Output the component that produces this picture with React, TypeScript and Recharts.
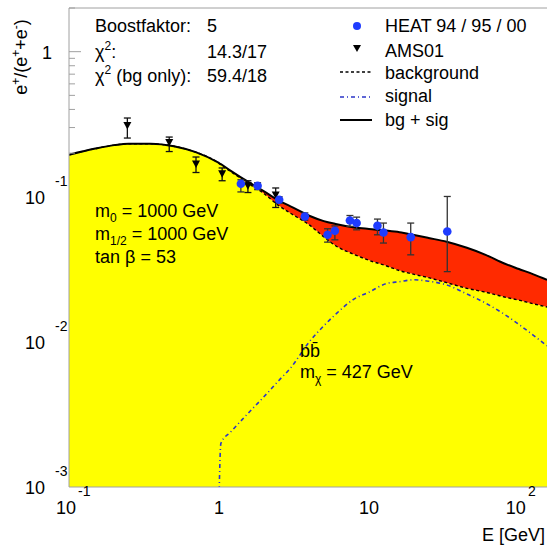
import React from 'react';
import { ComposedChart, Area, Line, Scatter, XAxis, YAxis, ErrorBar, ReferenceLine } from 'recharts';

// ---- curves (sampled on a common energy grid, GeV) ----
const energyGrid = [0.1, 0.15, 0.2, 0.25, 0.35, 0.5, 0.7, 1, 1.03, 1.2, 1.6, 2, 2.5, 3, 4, 5, 6, 8, 10, 13, 16, 20, 25, 33, 45, 60, 80, 100, 125, 154];
const bgPlusSig = [0.195, 0.215, 0.227, 0.232, 0.232, 0.223, 0.203, 0.171, 0.168, 0.151, 0.125, 0.109, 0.094, 0.086, 0.074, 0.068, 0.065, 0.0615, 0.060, 0.0585, 0.057, 0.0545, 0.052, 0.049, 0.0445, 0.0398, 0.0347, 0.0318, 0.0292, 0.0268];
const background = [0.195, 0.215, 0.227, 0.232, 0.232, 0.223, 0.203, 0.170, 0.166, 0.149, 0.122, 0.105, 0.087, 0.077, 0.064, 0.053, 0.046, 0.040, 0.0365, 0.0335, 0.031, 0.0292, 0.0277, 0.0256, 0.0234, 0.0220, 0.0204, 0.0194, 0.0183, 0.0174];
const signal = [null, null, null, null, null, null, null, 0.0008, 0.002, 0.0024, 0.0033, 0.0042, 0.0054, 0.0066, 0.0100, 0.0129, 0.0155, 0.0198, 0.022, 0.0252, 0.026, 0.0268, 0.0262, 0.0247, 0.0214, 0.0185, 0.0155, 0.0132, 0.0111, 0.0094];

// ---- AMS01 data ----
const amsE = [0.245, 0.466, 0.703, 1.05, 1.56, 2.39];
const amsVal = [0.310, 0.237, 0.168, 0.144, 0.119, 0.103];
const amsLow = [0.254, 0.205, 0.147, 0.129, 0.107, 0.0844];
const amsHigh = [0.349, 0.258, 0.188, 0.158, 0.129, 0.115];

// ---- HEAT 94/95/00 data ----
const heatE = [1.40, 1.81, 2.52, 3.74, 5.30, 5.93, 7.47, 8.28, 11.4, 12.5, 19.0, 33.3];
const heatVal = [0.123, 0.119, 0.0953, 0.0731, 0.0547, 0.0583, 0.0686, 0.0659, 0.0631, 0.0567, 0.0527, 0.0576];
const heatLow = [0.108, 0.112, 0.090, 0.069, 0.0487, 0.0505, 0.0625, 0.0592, 0.0547, 0.048, 0.0398, 0.0305];
const heatHigh = [0.131, 0.125, 0.100, 0.0774, 0.0602, 0.063, 0.0743, 0.0724, 0.0702, 0.0659, 0.0659, 0.1005];

// ---- axes ----
const X_MIN = 0.1;
const X_MAX = 154;
const Y_MIN = 0.001;
const Y_MAX = 2;
const xTickValues = [0.1, 0.2, 0.3, 0.4, 0.5, 0.6, 0.7, 0.8, 0.9, 1, 2, 3, 4, 5, 6, 7, 8, 9, 10, 20, 30, 40, 50, 60, 70, 80, 90, 100];
const yTickValues = [0.001, 0.002, 0.003, 0.004, 0.005, 0.006, 0.007, 0.008, 0.009, 0.01, 0.02, 0.03, 0.04, 0.05, 0.06, 0.07, 0.08, 0.09, 0.1, 0.2, 0.3, 0.4, 0.5, 0.6, 0.7, 0.8, 0.9, 1, 2];
const xTickLabels: Record<string, [string, string]> = { '0.1': ['10', '-1'], '1': ['1', ''], '10': ['10', ''], '100': ['10', '2'] };
const yTickLabels: Record<string, [string, string]> = { '0.001': ['10', '-3'], '0.01': ['10', '-2'], '0.1': ['10', '-1'], '1': ['1', ''] };

const FONT = '"Liberation Sans", Arial, Helvetica, sans-serif';
const AXIS_GRAY = '#a0a0a0';
const YELLOW = '#ffff00';
const RED = '#ff2a00';
const BLUE_PT = '#1f3cff';
const SIG_BLUE = '#2b35c8';

const curveData = energyGrid.map((E, i) => ({
  E,
  total: bgPlusSig[i],
  bg: background[i],
  sig: signal[i],
  yellow: [Y_MIN, background[i]],
  red: [background[i], bgPlusSig[i]],
}));

const amsData = amsE.map((E, i) => ({ E, v: amsVal[i], err: [amsVal[i] - amsLow[i], amsHigh[i] - amsVal[i]] }));
const heatData = heatE.map((E, i) => ({ E, v: heatVal[i], err: [heatVal[i] - heatLow[i], heatHigh[i] - heatVal[i]] }));

// tick marks lie under the yellow fill in the original, so only those above it show
const XTick = (props: any) => {
  const { x, y, payload } = props;
  const lab = xTickLabels[String(payload.value)];
  if (!lab) return null;
  return (
    <text fontFamily={FONT} fill="#000">
      <tspan x={lab[1] ? x - 3 : x} y={y + 27} fontSize={18} textAnchor="middle">{lab[0]}</tspan>
      {lab[1] && <tspan x={x + 9} y={y + 9} fontSize={14} textAnchor="start">{lab[1]}</tspan>}
    </text>
  );
};

const YTick = (props: any) => {
  const { x, y, payload } = props;
  const lab = yTickLabels[String(payload.value)];
  const showMark = payload.value > background[0];
  return (
    <g>
      {showMark && <line x1={x} x2={x + (lab ? 12 : 6)} y1={y} y2={y} stroke={AXIS_GRAY} strokeWidth={1} />}
      {lab && (
        <text fontFamily={FONT} fill="#000">
          <tspan x={lab[1] ? x - 24 : x - 17} y={y + 7} fontSize={18} textAnchor="end">{lab[0]}</tspan>
          {lab[1] && <tspan x={x - 14} y={y - 11} fontSize={14} textAnchor="start">{lab[1]}</tspan>}
        </text>
      )}
    </g>
  );
};

const DownTriangle = (p: any) => {
  const { cx, cy } = p;
  if (cx == null || cy == null) return null;
  return <polygon points={`${cx - 4},${cy - 3.5} ${cx + 4},${cy - 3.5} ${cx},${cy + 4}`} fill="#000" />;
};
const BlueDot = (p: any) => {
  const { cx, cy } = p;
  if (cx == null || cy == null) return null;
  return <circle cx={cx} cy={cy} r={4.3} fill={BLUE_PT} />;
};

const Overlay = () => (
  <svg width={547} height={546} style={{ position: 'absolute', left: 0, top: 0, pointerEvents: 'none' }} fontFamily={FONT}>
    {/* y-axis title */}
    <text transform="translate(27,57) rotate(-90)" textAnchor="middle" fontSize={18} fill="#000">
      e<tspan dy={-7} fontSize={12}>+</tspan>
      <tspan dy={7}>/(e</tspan>
      <tspan dy={-7} fontSize={12}>+</tspan>
      <tspan dy={7}>+e</tspan>
      <tspan dy={-7} fontSize={12}>-</tspan>
      <tspan dy={7}>)</tspan>
    </text>
    <text x={545} y={541} textAnchor="end" fontSize={18} fill="#000">E [GeV]</text>

    {/* fit info */}
    <text x={95} y={32} fontSize={18} fill="#000">Boostfaktor:</text>
    <text x={207} y={32} fontSize={18} fill="#000">5</text>
    <text x={95} y={58} fontSize={18} fill="#000">χ<tspan dy={-8} fontSize={12}>2</tspan><tspan dy={8}>:</tspan></text>
    <text x={267} y={58} fontSize={18} fill="#000" textAnchor="end">14.3/17</text>
    <text x={95} y={82} fontSize={18} fill="#000">χ<tspan dy={-8} fontSize={12}>2</tspan><tspan dy={8}> (bg only):</tspan></text>
    <text x={267} y={82} fontSize={18} fill="#000" textAnchor="end">59.4/18</text>

    {/* legend */}
    <circle cx={357} cy={26} r={4} fill={BLUE_PT} />
    <text x={385} y={32} fontSize={18} fill="#000">HEAT 94 / 95 / 00</text>
    <polygon points="353,45 361,45 357,52" fill="#000" />
    <text x={385} y={57} fontSize={18} fill="#000">AMS01</text>
    <line x1={340} x2={372} y1={72} y2={72} stroke="#000" strokeWidth={1.3} strokeDasharray="3 2.5" />
    <text x={385} y={79} fontSize={18} fill="#000">background</text>
    <line x1={340} x2={372} y1={97} y2={97} stroke={SIG_BLUE} strokeWidth={1.5} strokeDasharray="4 3 1 3" />
    <text x={385} y={102} fontSize={18} fill="#000">signal</text>
    <line x1={340} x2={372} y1={120} y2={120} stroke="#000" strokeWidth={2} />
    <text x={385} y={126} fontSize={18} fill="#000">bg + sig</text>

    {/* model parameters */}
    <text x={95} y={217} fontSize={18} fill="#000">m<tspan dy={5} fontSize={12}>0</tspan><tspan dy={-5}> = 1000 GeV</tspan></text>
    <text x={95} y={240} fontSize={18} fill="#000">m<tspan dy={5} fontSize={12}>1/2</tspan><tspan dy={-5}> = 1000 GeV</tspan></text>
    <text x={95} y={263} fontSize={18} fill="#000">tan β = 53</text>
    <text x={300} y={357} fontSize={18} fill="#000">bb̄</text>
    <text x={300} y={378} fontSize={18} fill="#000">m<tspan dy={5} fontSize={12}>χ</tspan><tspan dy={-5}> = 427 GeV</tspan></text>
  </svg>
);

export default function App() {
  return (
    <div style={{ position: 'absolute', left: 0, top: 0, width: 547, height: 546, background: '#fff', overflow: 'hidden' }}>
      <ComposedChart width={547} height={546} data={curveData} margin={{ top: 8, right: 0, bottom: 0, left: 0 }}>
        <XAxis
          dataKey="E"
          type="number"
          scale="log"
          domain={[X_MIN, X_MAX]}
          allowDataOverflow
          ticks={xTickValues}
          interval={0}
          height={59}
          tickSize={0}
          tickMargin={0}
          tickLine={false}
          tick={<XTick />}
          axisLine={{ stroke: AXIS_GRAY }}
        />
        <YAxis
          type="number"
          scale="log"
          domain={[Y_MIN, Y_MAX]}
          allowDataOverflow
          ticks={yTickValues}
          interval={0}
          width={69}
          tickSize={0}
          tickMargin={0}
          tickLine={false}
          tick={<YTick />}
          axisLine={{ stroke: AXIS_GRAY }}
        />
        <ReferenceLine y={Y_MAX} stroke={AXIS_GRAY} />
        <Area dataKey="yellow" type="monotone" stroke="none" fill={YELLOW} fillOpacity={1} isAnimationActive={false} />
        <Area dataKey="red" type="monotone" stroke="none" fill={RED} fillOpacity={1} isAnimationActive={false} />
        <Line dataKey="sig" type="monotone" stroke={SIG_BLUE} strokeWidth={1.6} strokeDasharray="4 3 1 3" dot={false} isAnimationActive={false} />
        <Line dataKey="bg" type="monotone" stroke="#000" strokeWidth={1.4} strokeDasharray="3 2.5" dot={false} isAnimationActive={false} />
        <Line dataKey="total" type="monotone" stroke="#000" strokeWidth={2} dot={false} isAnimationActive={false} />
        <Scatter data={amsData} dataKey="v" shape={<DownTriangle />} isAnimationActive={false}>
          <ErrorBar dataKey="err" direction="y" width={3.5} stroke="#111" strokeWidth={1.3} />
        </Scatter>
        <Scatter data={heatData} dataKey="v" shape={<BlueDot />} isAnimationActive={false}>
          <ErrorBar dataKey="err" direction="y" width={3.5} stroke="#333" strokeWidth={1.3} />
        </Scatter>
      </ComposedChart>
      <Overlay />
    </div>
  );
}
